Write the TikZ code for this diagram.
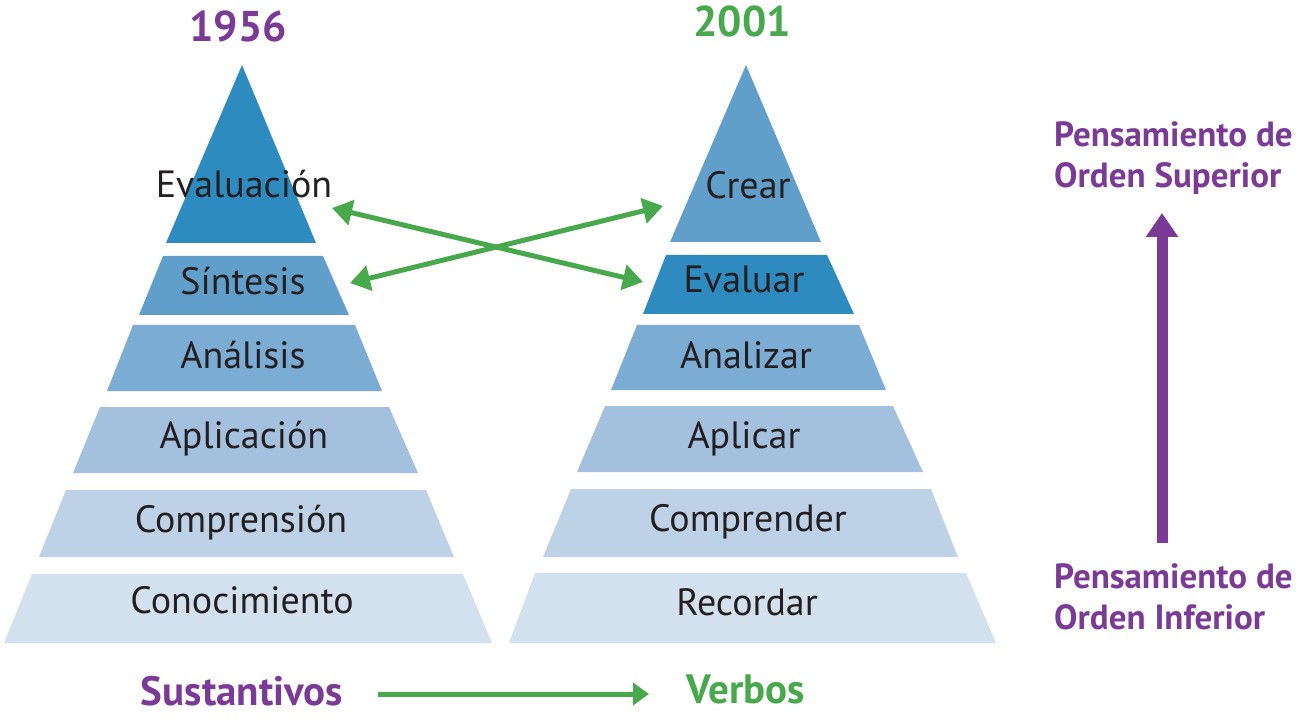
\documentclass[tikz,border=0pt]{standalone}
\usepackage{fontspec}
\setmainfont{PT Sans}
\usetikzlibrary{arrows.meta}
\definecolor{cA}{HTML}{2E8BC0}
\definecolor{cB}{HTML}{619FCB}
\definecolor{cC}{HTML}{7BACD3}
\definecolor{cD}{HTML}{A3C1DF}
\definecolor{cE}{HTML}{BDD1E7}
\definecolor{cF}{HTML}{D3E1EF}
\definecolor{purp}{HTML}{7B3A96}
\definecolor{grn}{HTML}{48A84C}
\definecolor{txt}{HTML}{231F20}
\begin{document}
\begin{tikzpicture}[x=1pt,y=-1pt,
  lbl/.style={anchor=base, text=txt, inner sep=0pt, font=\fontsize{38}{42}\selectfont},
  ttl/.style={anchor=base, inner sep=0pt, font=\bfseries\fontsize{43}{48}\selectfont},
  bot/.style={anchor=base, inner sep=0pt, font=\bfseries\fontsize{41}{46}\selectfont},
  side/.style={anchor=north west, inner sep=0pt, text=purp, align=left, font=\bfseries\fontsize{35}{41.5}\selectfont},
  garrow/.style={draw=grn, line width=5pt, {Triangle[length=20pt,width=25pt]}-{Triangle[length=20pt,width=25pt]}},
]
\useasboundingbox (0,0) rectangle (1307,719);

% left pyramid (1956)
\fill[cA] (242,65) -- (316,243) -- (166,243) -- cycle;
\fill[cB] (163,256) -- (323,256) -- (349,315) -- (139,315) -- cycle;
\fill[cC] (133,325) -- (355,325) -- (382,391) -- (107,391) -- cycle;
\fill[cD] (100,407) -- (389,407) -- (418,473) -- (73,473) -- cycle;
\fill[cE] (66,490) -- (426,490) -- (454,557) -- (39,557) -- cycle;
\fill[cF] (32,574) -- (463,574) -- (492,643) -- (4,643) -- cycle;

% right pyramid (2001)
\fill[cB] (746,65) -- (821,242) -- (670,242) -- cycle;
\fill[cA] (666,255) -- (827,255) -- (854,314) -- (643,314) -- cycle;
\fill[cC] (637,325) -- (859,325) -- (886,390) -- (611,390) -- cycle;
\fill[cD] (605,406) -- (893,406) -- (923,472) -- (577,472) -- cycle;
\fill[cE] (571,489) -- (931,489) -- (958,557) -- (543,557) -- cycle;
\fill[cF] (535,573) -- (966,573) -- (996,643) -- (509,643) -- cycle;

% titles
\node[ttl, text=purp] (y1956) at (238,42) {1956};
\node[ttl, text=grn] (y2001) at (742,37) {2001};

% left labels
\node[lbl] (evaluacion) at (244,198) {Evaluación};
\node[lbl] (sintesis) at (243,295) {Síntesis};
\node[lbl] (analisis) at (243,368) {Análisis};
\node[lbl] (aplicacion) at (244,448) {Aplicación};
\node[lbl] (comprension) at (241,532) {Comprensión};
\node[lbl] (conocimiento) at (242,613) {Conocimiento};

% right labels
\node[lbl] (crear) at (748,199) {Crear};
\node[lbl] (evaluar) at (744,293) {Evaluar};
\node[lbl] (analizar) at (746,368) {Analizar};
\node[lbl] (aplicar) at (744,448) {Aplicar};
\node[lbl] (comprender) at (748,531) {Comprender};
\node[lbl] (recordar) at (747,615) {Recordar};

% crossing arrows
\coordinate (pEvalL) at (332,208);
\coordinate (pEvalR) at (643,282);
\coordinate (pSintL) at (350,283);
\coordinate (pCrearR) at (663,206);
\draw[garrow] (pEvalL) -- (pEvalR);
\draw[garrow] (pSintL) -- (pCrearR);

% bottom
\node[bot, text=purp] (sust) at (242,705) {Sustantivos};
\node[bot, text=grn] (verbos) at (746,703) {Verbos};
\coordinate (pSustE) at (378,694);
\coordinate (pVerbW) at (649,694);
\draw[grn, line width=5pt, -{Triangle[length=16pt,width=22pt]}] (pSustE) -- (pVerbW);

% right side
\node[side] (superior) at (1054,121) {Pensamiento de\\Orden Superior};
\node[side] (inferior) at (1054,563) {Pensamiento de\\Orden Inferior};
\coordinate (pUpBot) at (1162,543);
\coordinate (pUpTip) at (1162,213);
\draw[purp, line width=11pt, -{Triangle[length=24pt,width=31pt]}] (pUpBot) -- (pUpTip);
\end{tikzpicture}
\end{document}
